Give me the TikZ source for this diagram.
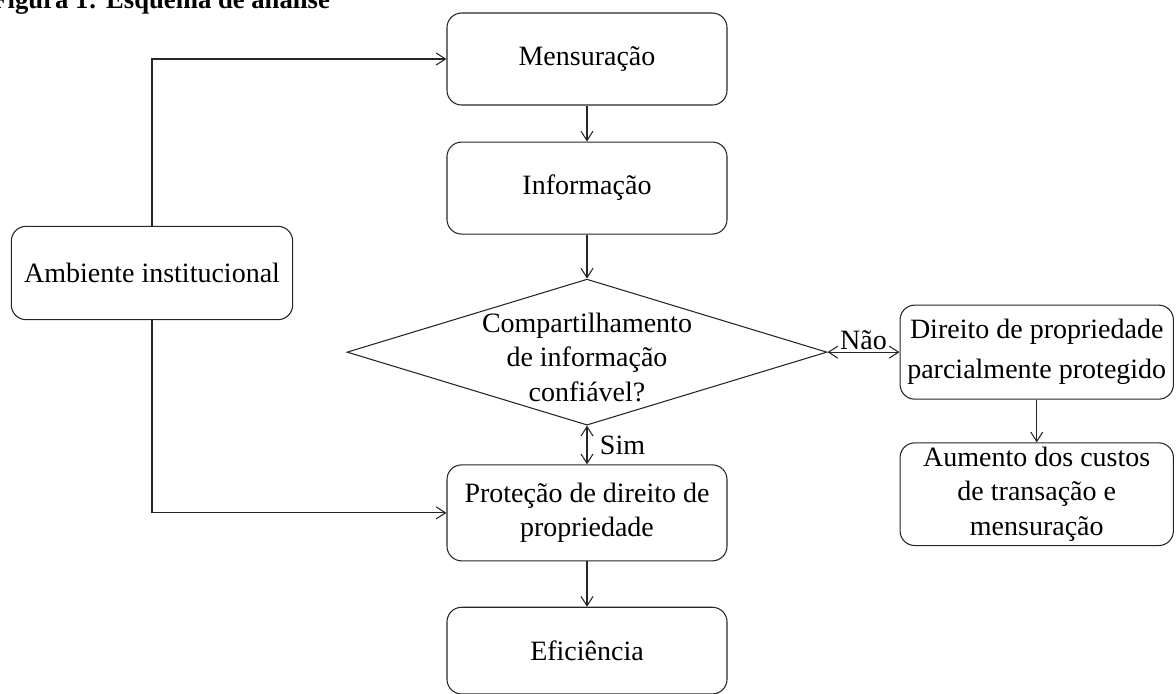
\documentclass[tikz,border=0pt]{standalone}
\usepackage{fontspec}
\setmainfont{Liberation Serif}
\usetikzlibrary{arrows.meta,positioning,shapes.geometric}

\begin{document}
\begin{tikzpicture}[
    node distance=27pt,
    box/.style={
        rectangle, rounded corners=11pt, draw=black!85, line width=0.8pt,
        align=center, minimum width=210pt, minimum height=69pt, inner sep=2pt
    },
    decision/.style={
        diamond, draw=black!85, line width=0.8pt,
        minimum width=360pt, minimum height=109.5pt, inner sep=0pt
    },
    arrow/.style={-{Straight Barb[length=7pt,width=9pt]}, line width=0.8pt, draw=black!85},
    biarrow/.style={{Straight Barb[length=7pt,width=9pt]}-{Straight Barb[length=7pt,width=9pt]}, line width=0.8pt, draw=black!85},
    font=\fontsize{21}{26}\selectfont
]
\useasboundingbox (0,0) rectangle (882pt,-519.75pt);

\node[anchor=base west, font=\bfseries\fontsize{20}{24}\selectfont] (title) at (-10pt,-6pt) {Figura 1: Esquema de análise};

\node[box] (mens) at (440.25pt,-44.25pt) {Mensuração};
\node[box, below=of mens] (info) {Informação};
\node[decision, below=33pt of info] (dec) {};
\node[align=center, yshift=-4pt] (decText) at (dec) {Compartilhamento\\de informação\\confiável?};
\node[box, below=29pt of dec, minimum height=72pt] (prot) {Proteção de direito de\\propriedade};
\node[box, below=34pt of prot, minimum height=65pt] (efic) {Eficiência};

\node[box, minimum width=211pt, minimum height=70pt] (amb) at (114pt,-204.75pt) {Ambiente institucional};

\node[box, right=54pt of dec, minimum width=205pt, minimum height=70.5pt] (dir) {Direito de propriedade\\[4pt]parcialmente protegido};
\node[box, below=32pt of dir, minimum width=205pt, minimum height=77pt] (aum) {Aumento dos custos\\de transação e\\mensuração};

\draw[arrow] (amb.north) |- (mens.west);
\draw[arrow] (amb.south) |- (prot.west);
\draw[arrow] (mens) -- (info);
\draw[arrow] (info) -- (dec.north);
\draw[biarrow] (dec.south) -- node[right=6pt] (sim) {Sim} (prot);
\draw[biarrow] (dec.east) -- node[above=-2pt] (nao) {Não} (dir.west);
\draw[arrow] (prot) -- (efic);
\draw[arrow] (dir) -- (aum);

\end{tikzpicture}
\end{document}
